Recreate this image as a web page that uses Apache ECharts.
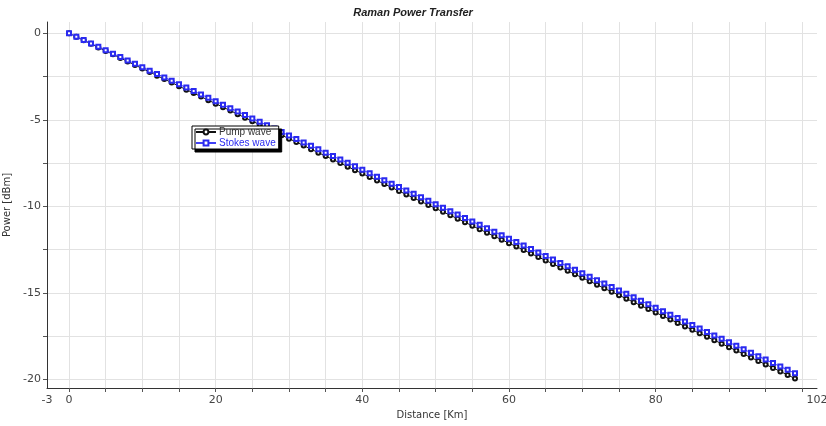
<!DOCTYPE html>
<html>
<head>
<meta charset="utf-8">
<script src="https://cdn.jsdelivr.net/npm/echarts@6/dist/echarts.min.js"></script>
<style>
  html, body { margin: 0; padding: 0; background: #fff; }
  #chart { width: 826px; height: 426px; }
</style>
</head>
<body>
<div id="chart"></div>
<script>
// Fibre distance in km, one sample per kilometre
const distanceKm = [
  0, 1, 2, 3, 4, 5, 6, 7, 8, 9,
  10, 11, 12, 13, 14, 15, 16, 17, 18, 19,
  20, 21, 22, 23, 24, 25, 26, 27, 28, 29,
  30, 31, 32, 33, 34, 35, 36, 37, 38, 39,
  40, 41, 42, 43, 44, 45, 46, 47, 48, 49,
  50, 51, 52, 53, 54, 55, 56, 57, 58, 59,
  60, 61, 62, 63, 64, 65, 66, 67, 68, 69,
  70, 71, 72, 73, 74, 75, 76, 77, 78, 79,
  80, 81, 82, 83, 84, 85, 86, 87, 88, 89,
  90, 91, 92, 93, 94, 95, 96, 97, 98, 99
];

// Pump power along the fibre [dBm]
const pumpPower = [
  0, -0.20, -0.41, -0.61, -0.82, -1.02, -1.22, -1.43, -1.63, -1.84,
  -2.04, -2.24, -2.45, -2.65, -2.85, -3.06, -3.26, -3.46, -3.66, -3.87,
  -4.07, -4.27, -4.47, -4.68, -4.88, -5.08, -5.28, -5.48, -5.69, -5.89,
  -6.09, -6.29, -6.49, -6.70, -6.90, -7.10, -7.30, -7.50, -7.71, -7.91,
  -8.11, -8.31, -8.51, -8.71, -8.91, -9.12, -9.32, -9.52, -9.72, -9.92,
  -10.12, -10.32, -10.52, -10.72, -10.92, -11.13, -11.33, -11.53, -11.73, -11.93,
  -12.13, -12.33, -12.53, -12.73, -12.93, -13.13, -13.33, -13.53, -13.73, -13.93,
  -14.13, -14.33, -14.53, -14.74, -14.94, -15.14, -15.34, -15.54, -15.74, -15.94,
  -16.14, -16.34, -16.54, -16.74, -16.94, -17.14, -17.34, -17.54, -17.74, -17.94,
  -18.14, -18.34, -18.54, -18.74, -18.94, -19.14, -19.34, -19.54, -19.75, -19.95
];

// Stokes power along the fibre [dBm]
const stokesPower = [
  0, -0.20, -0.39, -0.59, -0.78, -0.98, -1.18, -1.37, -1.57, -1.76,
  -1.96, -2.16, -2.35, -2.55, -2.75, -2.95, -3.14, -3.34, -3.54, -3.73,
  -3.93, -4.13, -4.33, -4.52, -4.72, -4.92, -5.12, -5.32, -5.51, -5.71,
  -5.91, -6.11, -6.31, -6.50, -6.70, -6.90, -7.10, -7.30, -7.49, -7.69,
  -7.89, -8.09, -8.29, -8.49, -8.69, -8.89, -9.08, -9.28, -9.48, -9.68,
  -9.88, -10.08, -10.28, -10.48, -10.68, -10.88, -11.07, -11.27, -11.47, -11.67,
  -11.87, -12.07, -12.27, -12.47, -12.67, -12.87, -13.07, -13.27, -13.47, -13.67,
  -13.87, -14.07, -14.27, -14.46, -14.66, -14.86, -15.06, -15.26, -15.46, -15.66,
  -15.86, -16.06, -16.26, -16.46, -16.66, -16.86, -17.06, -17.26, -17.46, -17.66,
  -17.86, -18.06, -18.26, -18.46, -18.66, -18.86, -19.06, -19.26, -19.45, -19.65
];

// Axis ticks, grid positions and labels
const xTickValues = [0, 5, 10, 15, 20, 25, 30, 35, 40, 45, 50, 55, 60, 65, 70, 75, 80, 85, 90, 95, 100];
const xLabelValues = [-3, 0, 20, 40, 60, 80, 102];
const yTickValues = [-20, -17.5, -15, -12.5, -10, -7.5, -5, -2.5, 0];
const yLabelValues = [-20, -15, -10, -5, 0];

const seriesNames = ['Pump wave', 'Stokes wave'];

const labelFont = { color: '#444', fontSize: 11, fontFamily: 'DejaVu Sans' };
const gridLine = { show: true, lineStyle: { color: '#e2e2e2', width: 1 } };

const chart = echarts.init(document.getElementById('chart'), null, { renderer: 'canvas' });

chart.setOption({
  animation: false,
  backgroundColor: '#fff',
  title: {
    text: 'Raman Power Transfer',
    left: 'center',
    top: 2,
    textStyle: {
      fontFamily: 'Liberation Sans',
      fontStyle: 'italic',
      fontWeight: 'bold',
      fontSize: 11,
      color: '#222'
    }
  },
  legend: {
    orient: 'vertical',
    left: 192,
    top: 126,
    padding: [1, 3, 1, 3],
    itemGap: 1,
    itemWidth: 20,
    itemHeight: 6,
    backgroundColor: '#fff',
    borderColor: '#000',
    borderWidth: 1,
    borderRadius: 0,
    shadowColor: '#000',
    shadowOffsetX: 3,
    shadowOffsetY: 3,
    shadowBlur: 0,
    textStyle: { fontFamily: 'Liberation Sans', fontSize: 10, padding: [0, 0, 0, -2] },
    data: [
      { name: seriesNames[0], textStyle: { color: '#333' } },
      { name: seriesNames[1], textStyle: { color: '#2a2af0' } }
    ]
  },
  grid: { left: 47, right: 9, top: 22, bottom: 38, outerBoundsMode: 'none', containLabel: false },
  xAxis: {
    type: 'value',
    min: -3,
    max: 102,
    name: 'Distance [Km]',
    nameLocation: 'middle',
    nameGap: 18,
    nameTextStyle: { color: '#333', fontSize: 10, fontFamily: 'DejaVu Sans' },
    axisLine: { show: true, onZero: false, lineStyle: { color: '#333', width: 1 } },
    axisTick: { show: true, inside: false, length: 4, customValues: xTickValues, lineStyle: { color: '#555' } },
    axisLabel: { customValues: xLabelValues, margin: 7, ...labelFont, showMinLabel: true, showMaxLabel: true },
    splitLine: gridLine
  },
  yAxis: {
    type: 'value',
    min: -20.5,
    max: 0.65,
    name: 'Power [dBm]',
    nameLocation: 'middle',
    nameGap: 30,
    nameTextStyle: { color: '#333', fontSize: 10, fontFamily: 'DejaVu Sans' },
    axisLine: { show: true, onZero: false, lineStyle: { color: '#333', width: 1 } },
    axisTick: { show: true, inside: false, length: 4, customValues: yTickValues, lineStyle: { color: '#555' } },
    axisLabel: { customValues: yLabelValues, margin: 6, ...labelFont },
    splitLine: gridLine
  },
  series: [
    {
      name: seriesNames[0],
      type: 'line',
      data: distanceKm.map((d, i) => [d, pumpPower[i]]),
      symbol: 'emptyCircle',
      symbolSize: 4,
      color: '#111',
      lineStyle: { color: '#111', width: 1 },
      itemStyle: { borderColor: '#222', borderWidth: 0.8 },
      z: 2
    },
    {
      name: seriesNames[1],
      type: 'line',
      data: distanceKm.map((d, i) => [d, stokesPower[i]]),
      symbol: 'emptyRect',
      symbolSize: 4,
      color: '#2a2af0',
      lineStyle: { color: '#4040f5', width: 1 },
      itemStyle: { borderColor: '#2020e6', borderWidth: 0.8 },
      z: 3
    }
  ]
});
</script>
</body>
</html>
